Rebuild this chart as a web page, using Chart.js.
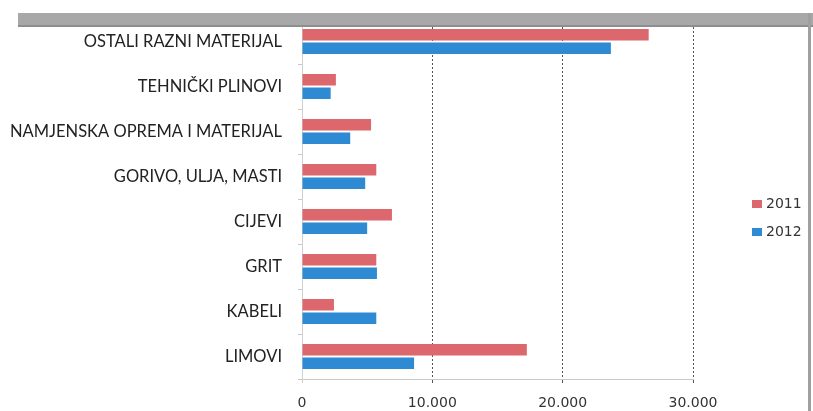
<!DOCTYPE html>
<html>
<head>
<meta charset="utf-8">
<script src="https://cdn.jsdelivr.net/npm/chart.js@4/dist/chart.umd.min.js"></script>
<style>
  body { margin: 0; background: #fff; }
  #wrap { position: relative; width: 813px; height: 411px; }
</style>
</head>
<body>
<div id="wrap"><canvas id="grafico" width="813" height="411"></canvas></div>
<script>
const kategorije = [
  "OSTALI RAZNI MATERIJAL",
  "TEHNIČKI PLINOVI",
  "NAMJENSKA OPREMA I MATERIJAL",
  "GORIVO, ULJA, MASTI",
  "CIJEVI",
  "GRIT",
  "KABELI",
  "LIMOVI"
];
const godine = ["2011", "2012"];
const vrijednosti2011 = [26600, 2600, 5300, 5700, 6900, 5700, 2450, 17250];
const vrijednosti2012 = [23700, 2200, 3700, 4850, 5000, 5750, 5700, 8600];
const xTicks = [0, 10000, 20000, 30000];

const boje = ["#dc676d", "#2e8ad2"];

// okvir i legenda kao u Excelu
const ukrasi = {
  id: "ukrasi",
  afterDraw(chart) {
    const c = chart.ctx;
    c.save();
    // siva traka gore
    c.fillStyle = "#a8a8a8";
    c.fillRect(18, 13, 795, 13);
    c.fillStyle = "#8e8e8e";
    c.fillRect(18, 25, 795, 2);
    // desni rub
    c.fillStyle = "#a0a0a0";
    c.fillRect(808, 13, 3, 398);
    // legenda
    c.font = "14px 'DejaVu Sans'";
    c.textBaseline = "middle";
    chart.data.datasets.forEach((ds, i) => {
      const y = 204 + i * 28;
      c.fillStyle = ds.backgroundColor;
      c.fillRect(752, y - 4, 10, 8);
      c.fillStyle = "#333";
      c.fillText(ds.label, 766, y);
    });
    c.restore();
  }
};

new Chart(document.getElementById("grafico"), {
  type: "bar",
  data: {
    labels: kategorije,
    datasets: [
      { label: godine[0], data: vrijednosti2011, backgroundColor: boje[0] },
      { label: godine[1], data: vrijednosti2012, backgroundColor: boje[1] }
    ]
  },
  options: {
    indexAxis: "y",
    responsive: false,
    animation: false,
    categoryPercentage: 0.6,
    barPercentage: 0.85,
    layout: { padding: { top: 19, right: 120, bottom: 0, left: 0 } },
    plugins: {
      legend: { display: false },
      tooltip: { enabled: false }
    },
    scales: {
      x: {
        min: 0,
        max: 30000,
        afterBuildTicks: (s) => { s.ticks = xTicks.map(v => ({ value: v })); },
        afterFit: (s) => { s.height = 32; },
        ticks: {
          padding: 12,
          color: "#333",
          font: { family: "DejaVu Sans", size: 14 },
          callback: (v) => v.toLocaleString("de-DE")
        },
        grid: {
          color: (ctx) => ctx.index === 0 ? "#d0d0d0" : "#555",
          lineWidth: 1,
          tickLength: 4
        },
        border: { color: "#c8c8c8", dash: [2, 2] }
      },
      y: {
        afterFit: (s) => {
          s.width = 302;
          s.paddingTop = 0;
          s.paddingBottom = 0;
        },
        ticks: {
          padding: 16,
          color: "#222",
          font: { family: "Lato", size: 16.5 }
        },
        grid: {
          drawOnChartArea: false,
          color: "#c8c8c8",
          tickLength: 4
        },
        border: { color: "#d0d0d0", dash: [2, 2] }
      }
    }
  },
  plugins: [ukrasi]
});
</script>
</body>
</html>
